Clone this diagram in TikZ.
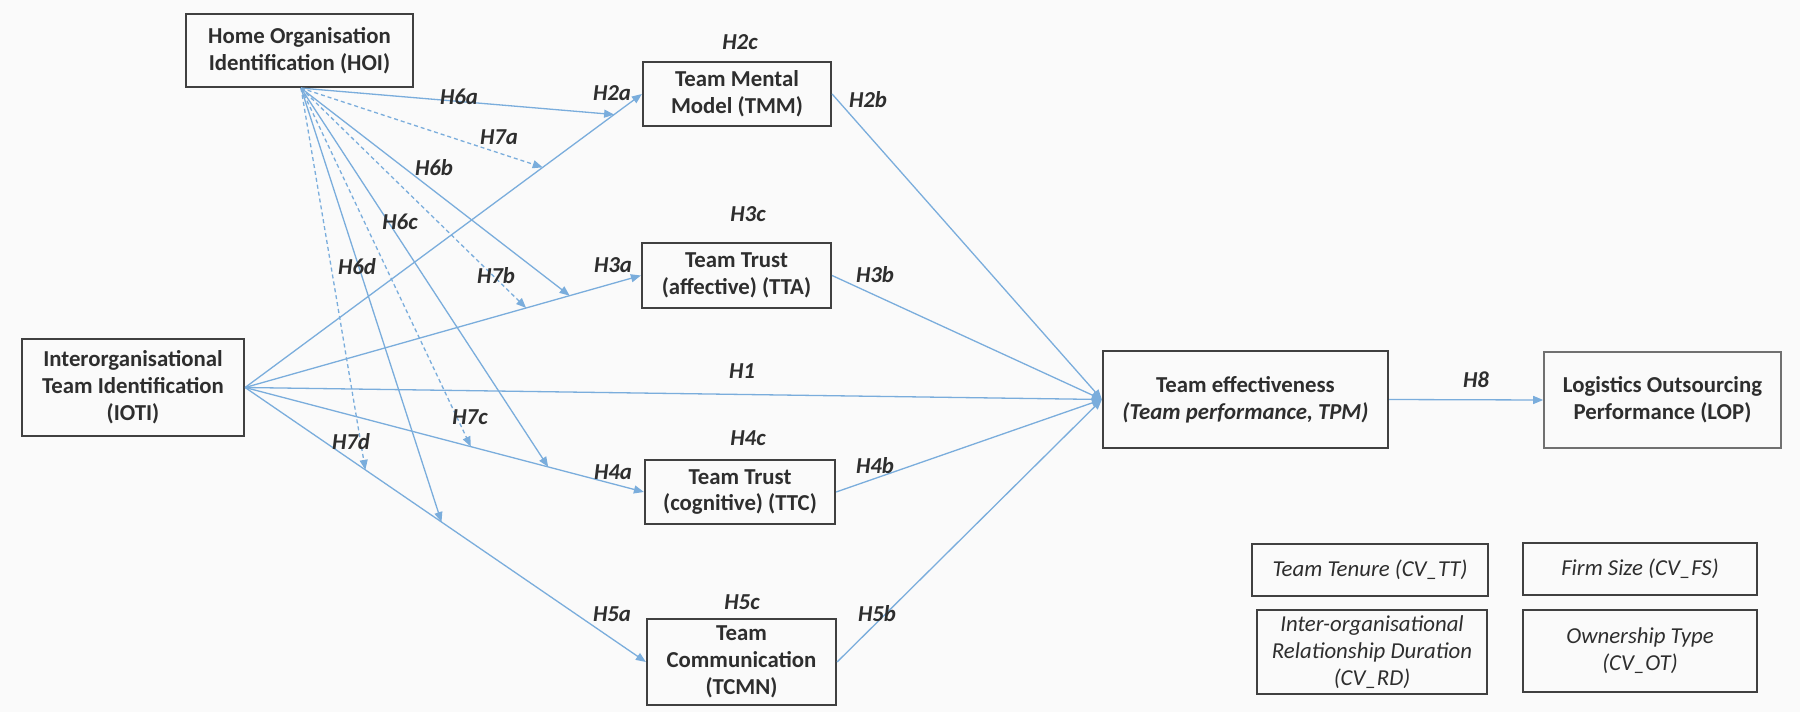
\documentclass[tikz,border=0pt]{standalone}
\usepackage{fontspec}
\setmainfont{Carlito}
\usetikzlibrary{arrows.meta,calc}
\definecolor{linkblue}{HTML}{7AADDC}
\definecolor{boxline}{HTML}{404040}
\definecolor{lightline}{HTML}{707070}
\definecolor{inktext}{HTML}{2E2E2E}
\definecolor{paper}{HTML}{FAFAFA}

\begin{document}
\begin{tikzpicture}[x=0.5pt,y=-0.5pt,
  construct/.style={draw=boxline, line width=1.1pt, align=center, inner sep=0pt,
    text=inktext, font=\fontsize{11.4}{13.4}\selectfont\bfseries},
  outcome/.style={construct, draw=lightline, line width=0.8pt},
  control/.style={construct, line width=1pt, font=\fontsize{11.4}{13.4}\selectfont\itshape},
  hyp/.style={inner sep=0pt, text=inktext, font=\fontsize{11.4}{13.4}\selectfont\bfseries\itshape},
  link/.style={draw=linkblue, line width=0.65pt, -{Triangle[length=5pt,width=4pt]}},
  modlink/.style={link, dash pattern=on 2pt off 1.5pt}
]
% canvas
\fill[paper] (0,0) rectangle (1800,712);
\useasboundingbox (0,0) rectangle (1800,712);

% constructs
\node[construct, minimum width=113.5pt, minimum height=36.5pt] (hoi) at (299.5,50.5)
  {Home Organisation\\Identification (HOI)};
\node[construct, minimum width=111pt, minimum height=48.5pt] (ioti) at (133,387.5)
  {Interorganisational\\Team Identification\\(IOTI)};
\node[construct, minimum width=94pt, minimum height=32pt] (tmm) at (737,94)
  {Team Mental\\Model (TMM)};
\node[construct, minimum width=94.5pt, minimum height=32.5pt] (tta) at (736.5,275.5)
  {Team Trust\\(affective) (TTA)};
\node[construct, minimum width=95pt, minimum height=32pt] (ttc) at (740,492)
  {Team Trust\\(cognitive) (TTC)};
\node[construct, minimum width=94.5pt, minimum height=43pt] (tcmn) at (741.5,662)
  {Team\\Communication\\(TCMN)};
\node[construct, minimum width=142.5pt, minimum height=48.5pt] (tpm) at (1245.5,399.5)
  {Team effectiveness\\\itshape(Team performance, TPM)};
\node[outcome, minimum width=118.5pt, minimum height=48pt] (lop) at (1662.5,400)
  {Logistics Outsourcing\\Performance (LOP)};

% control variables
\node[control, minimum width=118pt, minimum height=26pt] (cvtt) at (1370,570)
  {Team Tenure (CV\_TT)};
\node[control, minimum width=117pt, minimum height=26pt] (cvfs) at (1640,569)
  {Firm Size (CV\_FS)};
\node[control, minimum width=115pt, minimum height=42pt] (cvrd) at (1372,652)
  {Inter-organisational\\Relationship Duration\\(CV\_RD)};
\node[control, minimum width=117pt, minimum height=41pt] (cvot) at (1640,651)
  {Ownership Type\\(CV\_OT)};

% direct paths
\draw[link] (ioti.east) -- (tmm.west);
\draw[link] (ioti.east) -- (tta.west);
\draw[link] (ioti.east) -- (ttc.west);
\draw[link] (ioti.east) -- (tcmn.west);
\draw[link] (ioti.east) -- (tpm.west);
\draw[link] (tmm.east) -- (tpm.west);
\draw[link] (tta.east) -- (tpm.west);
\draw[link] (ttc.east) -- (tpm.west);
\draw[link] (tcmn.east) -- (tpm.west);
\draw[link] (tpm.east) -- (lop.west);

% moderation targets on the IOTI paths
\coordinate (hoiout) at ($(hoi.south)+(1.5,0)$);
\coordinate (m6a) at ($(ioti.east)!0.93!(tmm.west)$);
\coordinate (m7a) at ($(ioti.east)!0.75!(tmm.west)$);
\coordinate (m6b) at ($(ioti.east)!0.82!(tta.west)$);
\coordinate (m7b) at ($(ioti.east)!0.71!(tta.west)$);
\coordinate (m6c) at ($(ioti.east)!0.76!(ttc.west)$);
\coordinate (m7c) at ($(ioti.east)!0.566!(ttc.west)$);
\coordinate (m6d) at ($(ioti.east)!0.49!(tcmn.west)$);
\coordinate (m7d) at ($(ioti.east)!0.30!(tcmn.west)$);

\draw[link] (hoiout) -- (m6a);
\draw[link] (hoiout) -- (m6b);
\draw[link] (hoiout) -- (m6c);
\draw[link] (hoiout) -- (m6d);
\draw[modlink] (hoiout) -- (m7a);
\draw[modlink] (hoiout) -- (m7b);
\draw[modlink] (hoiout) -- (m7c);
\draw[modlink] (hoiout) -- (m7d);

% hypothesis labels
\node[hyp] (l6a) at (459,97) {H6a};
\node[hyp] (l7a) at (499,137) {H7a};
\node[hyp] (l6b) at (434,168) {H6b};
\node[hyp] (l6c) at (400,222) {H6c};
\node[hyp] (l6d) at (357,267) {H6d};
\node[hyp] (l7b) at (496,276) {H7b};
\node[hyp] (l7c) at (470,417) {H7c};
\node[hyp] (l7d) at (351,442) {H7d};
\node[hyp] (l2c) at (740,42) {H2c};
\node[hyp] (l2a) at (612,93) {H2a};
\node[hyp] (l2b) at (868,100) {H2b};
\node[hyp] (l3c) at (748,214) {H3c};
\node[hyp] (l3a) at (613,265) {H3a};
\node[hyp] (l3b) at (875,275) {H3b};
\node[hyp] (l1) at (742,371) {H1};
\node[hyp] (l4c) at (748,438) {H4c};
\node[hyp] (l4a) at (613,472) {H4a};
\node[hyp] (l4b) at (875,466) {H4b};
\node[hyp] (l5c) at (742,602) {H5c};
\node[hyp] (l5a) at (612,614) {H5a};
\node[hyp] (l5b) at (877,614) {H5b};
\node[hyp] (l8) at (1476,380) {H8};
\end{tikzpicture}
\end{document}
